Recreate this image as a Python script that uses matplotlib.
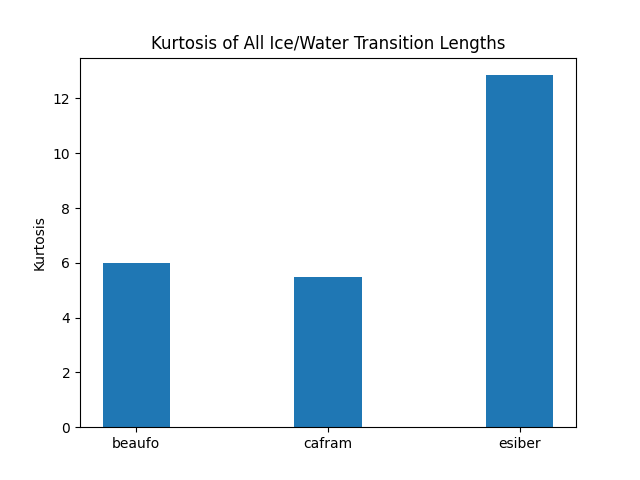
import matplotlib

matplotlib.use("Agg")
import matplotlib.pyplot as plt
import numpy as np

regions = ["beaufo", "cafram", "esiber"]
kurtosis = [5.98, 5.48, 12.85]

fig, ax = plt.subplots(figsize=(6.4, 4.8), dpi=100)
x = np.arange(len(regions))
ax.bar(x, kurtosis, width=0.35, color="#1f77b4")
ax.set_xticks(x)
ax.set_xticklabels(regions)
ax.set_ylabel("Kurtosis")
ax.set_title("Kurtosis of All Ice/Water Transition Lengths")
fig.savefig("out.png", dpi=100)
plt.close(fig)
